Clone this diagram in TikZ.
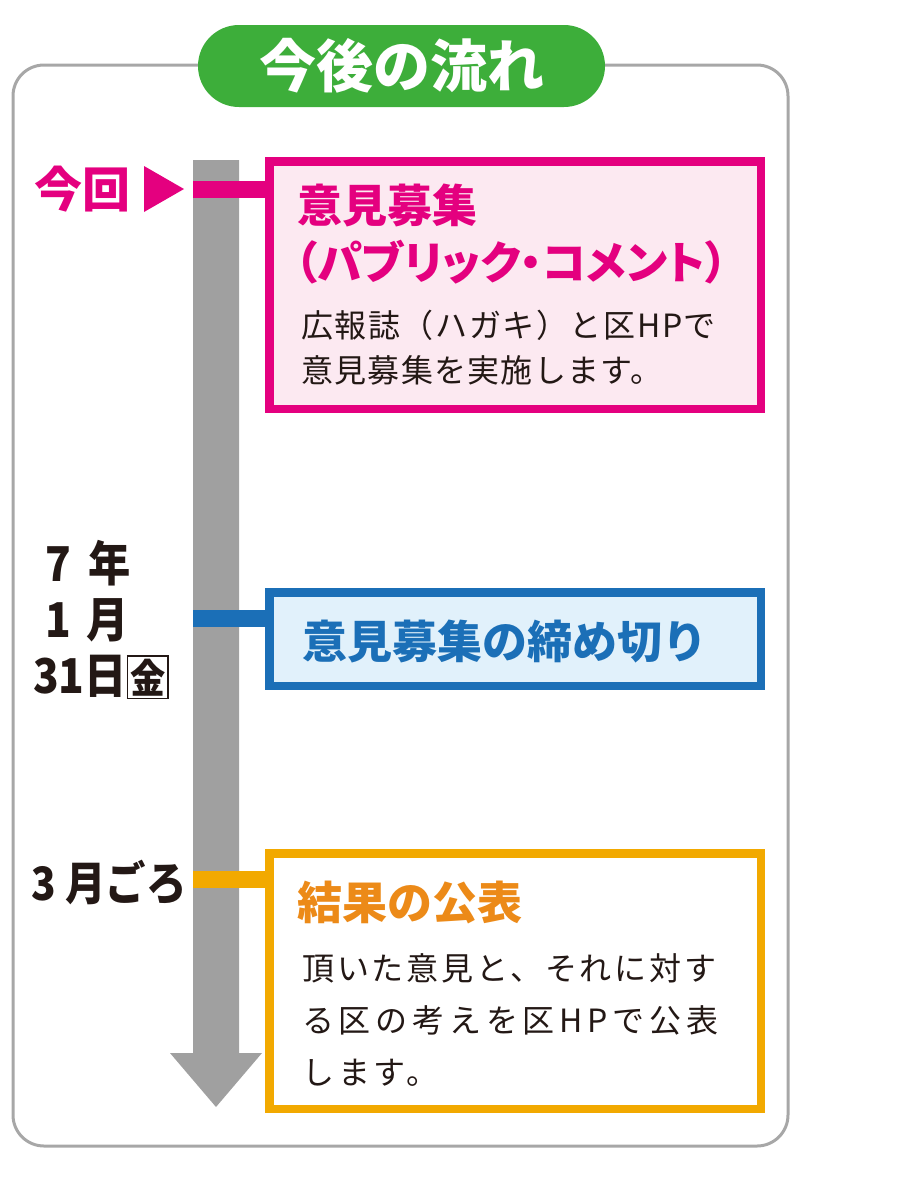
\documentclass[tikz,border=0pt]{standalone}
\usepackage{fontspec}
\newfontfamily\jp{Noto Sans CJK JP}
\newfontfamily\jpcond[FakeStretch=0.88]{Noto Sans CJK JP}
\newfontfamily\jppalt[RawFeature=+palt]{Noto Sans CJK JP}
\newcommand\fsz[1]{\fontsize{#1}{#1}\selectfont}
\usepackage{tikz}
\usetikzlibrary{positioning}
\definecolor{kpink}{HTML}{E4007F}
\definecolor{kpinkfill}{HTML}{FCE9F1}
\definecolor{kblue}{HTML}{1B6FB7}
\definecolor{kbluefill}{HTML}{E1F1FB}
\definecolor{korange}{HTML}{F2A900}
\definecolor{korangetext}{HTML}{EC8A18}
\definecolor{kgreen}{HTML}{3DAE3A}
\definecolor{kbar}{HTML}{A0A0A0}
\definecolor{kframe}{HTML}{A7A7A7}
\definecolor{kink}{HTML}{231815}
\tikzstyle{stagebox}=[draw, line width=8.5pt, minimum width=491.5pt, inner sep=0pt]
\tikzstyle{tick}=[line width=17pt]
\tikzstyle{headtext}=[anchor=west, inner sep=0pt, font=\jp\bfseries\fsz{45}]
\tikzstyle{bodytext}=[anchor=west, inner sep=0pt, text=kink]
\tikzstyle{datetext}=[anchor=west, inner sep=0pt, text=kink, font=\jpcond\bfseries\fsz{48}]

\begin{document}
\begin{tikzpicture}[x=1pt,y=-1pt]
		\useasboundingbox (0,0) rectangle (916,1179);
		\draw[kframe, line width=3pt, rounded corners=31pt] (13,65) rectangle (788,1146);
		\node[fill=kgreen, rounded corners=41pt, minimum width=407pt, minimum height=82pt, inner sep=0pt, text=white, font=\jp\bfseries\fsz{57}] (title) at (401.5,66) {今後の流れ};
		\coordinate (bartop) at (216,160);
		\coordinate (bartip) at (216,1107);
		\fill[kbar] (193,160) -- (239,160) -- (239,1053) -- (262,1053) -- (bartip) -- (170,1053) -- (193,1053) -- cycle;
		\node[stagebox, draw=kpink, fill=kpinkfill, minimum height=247.5pt] (pub) at (515,285) {};
		\node[stagebox, draw=kblue, fill=kbluefill, minimum height=93.5pt] (close) at (515,639) {};
		\node[stagebox, draw=korange, fill=white, minimum height=255.5pt] (result) at (515,981) {};
		\coordinate (nowtick) at (193,189.5);
		\coordinate (closetick) at (193,618);
		\coordinate (resulttick) at (193,879);
		\draw[tick, kpink] (nowtick) -- (nowtick -| pub.west);
		\draw[tick, kblue] (closetick) -- (closetick -| close.west);
		\draw[tick, korange] (resulttick) -- (resulttick -| result.west);
		\node[anchor=west, inner sep=0pt, text=kpink, font=\jp\bfseries\fsz{48}] (nowlabel) at (34,189) {今回};
		\fill[kpink] (144,166) -- (184,189) -- (144,212) -- cycle;
		\node[headtext, text=kpink] (pubhead) at (297,205) {意見募集};
		\node[headtext, text=kpink, font=\jppalt\bfseries\fsz{45}] (pubsub) at (295,262) {（パブリック・コメント）};
		\node[bodytext, font=\jp\fsz{32}\addfontfeature{LetterSpace=5}] (publine1) at (301,325) {広報誌（ハガキ）と区HPで};
		\node[bodytext, font=\jp\fsz{32}\addfontfeature{LetterSpace=4}] (publine2) at (301,370) {意見募集を実施します。};
		\node[headtext, text=kblue] (closehead) at (302,642) {意見募集の締め切り};
		\node[headtext, text=korangetext] (resulthead) at (297,902) {結果の公表};
		\node[bodytext, font=\jp\fsz{32}\addfontfeature{LetterSpace=9}] (resultline1) at (302,968) {頂いた意見と、それに対す};
		\node[bodytext, font=\jp\fsz{32}\addfontfeature{LetterSpace=15}] (resultline2) at (302,1020) {る区の考えを区HPで公表};
		\node[bodytext, font=\jp\fsz{32}\addfontfeature{LetterSpace=12}] (resultline3) at (302,1073) {します。};
		\node[datetext] (year) at (45,563) {7\hspace{8pt} 年};
		\node[datetext] (month) at (45,620) {1\hspace{6pt} 月};
		\node[datetext] (day) at (33,677) {31日{\fsz{40}\fboxsep=2pt\fboxrule=1.3pt\fbox{金}}};
		\node[datetext, font=\jpcond\bfseries\fsz{46}] (march) at (31,882) {3 月ごろ};
	\end{tikzpicture}
\end{document}
